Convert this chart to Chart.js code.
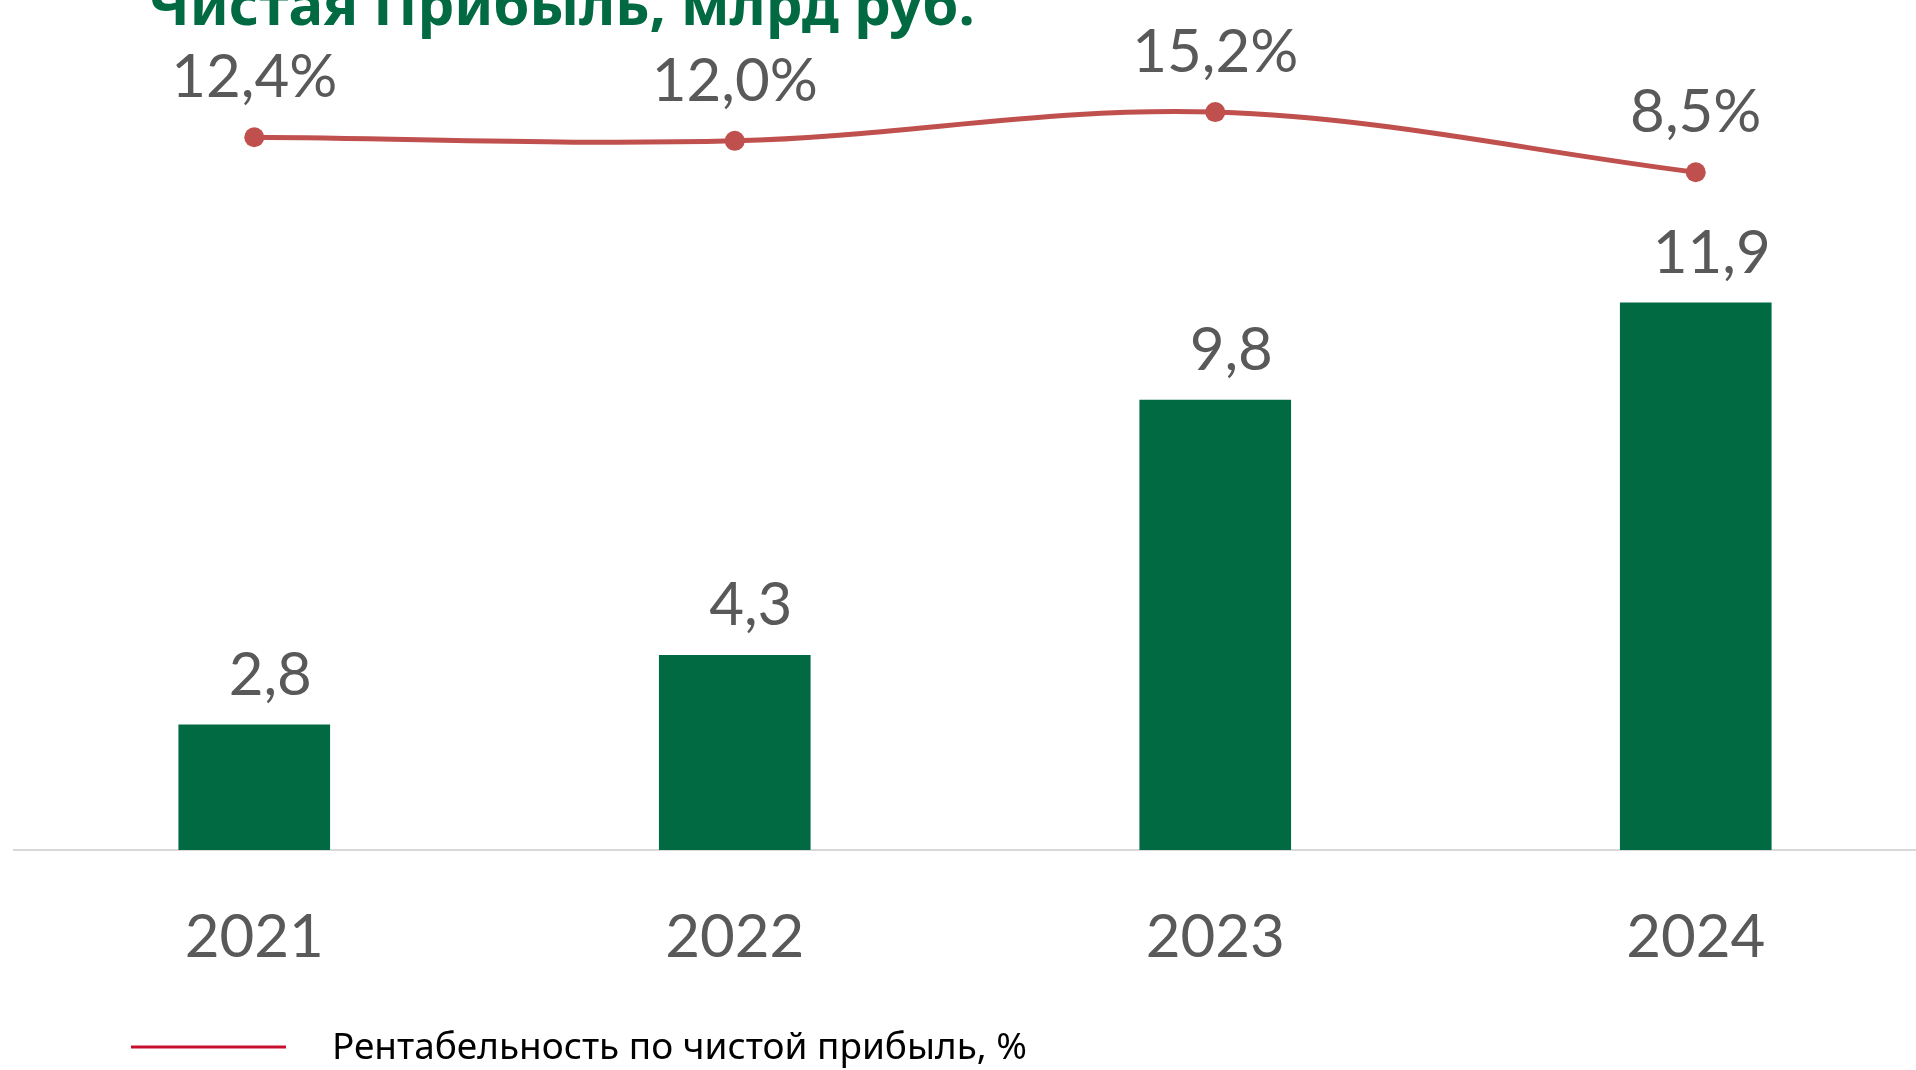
<!DOCTYPE html>
<html>
<head>
<meta charset="utf-8">
<script src="https://cdn.jsdelivr.net/npm/chart.js@4.4.1/dist/chart.umd.min.js"></script>
<style>
  html, body { margin: 0; padding: 0; background: #fff; overflow: hidden; }
  #wrap { position: absolute; left: 0; top: 0; width: 1946px; height: 1070px; }
</style>
</head>
<body>
<div id="wrap"><canvas id="profit-chart" width="1946" height="1070" style="width:1946px;height:1070px"></canvas></div>
<script>
// data
const years = ["2021", "2022", "2023", "2024"];
const netProfit = [2.8, 4.3, 9.8, 11.9];        // млрд руб.
const profitMargin = [12.4, 12.0, 15.2, 8.5];   // %
const chartTitle = "Чистая Прибыль, млрд руб.";
const legendLabel = "Рентабельность по чистой прибыль, %";

const GREEN = "#016A42";
const RED = "#C0504D";
const GREY_TEXT = "#595959";

const fmt = v => v.toFixed(1).replace(".", ",");

// labels above bars / points, title and the legend line at the bottom
const overlay = {
    id: "overlay",
    afterDatasetsDraw(chart) {
        const c = chart.ctx;
        c.save();
        c.fillStyle = GREY_TEXT;
        c.font = "60px Lato";
        c.textAlign = "center";
        c.textBaseline = "alphabetic";

        chart.getDatasetMeta(0).data.forEach((bar, i) => {
            c.fillText(fmt(netProfit[i]), bar.x + 16, bar.y - 30);
        });
        chart.getDatasetMeta(1).data.forEach((pt, i) => {
            c.fillText(fmt(profitMargin[i]) + "%", pt.x, pt.y - 40);
        });
        c.restore();
    },
    afterDraw(chart) {
        const c = chart.ctx;
        c.save();
        // title, cut off at the top like the source slide
        c.fillStyle = GREEN;
        c.font = "bold 58px 'Noto Sans'";
        c.textAlign = "left";
        c.textBaseline = "alphabetic";
        c.fillText(chartTitle, 148, 25, 829);

        // legend
        c.strokeStyle = "#C8102E";
        c.lineWidth = 3;
        c.beginPath();
        c.moveTo(131, 1047);
        c.lineTo(286, 1047);
        c.stroke();
        c.fillStyle = "#000";
        c.font = "37px 'Noto Sans'";
        c.fillText(legendLabel, 332, 1059, 695);
        c.restore();
    }
};

new Chart(document.getElementById("profit-chart"), {
    type: "bar",
    data: {
        labels: years,
        datasets: [
            {
                type: "bar",
                label: "Чистая прибыль, млрд руб.",
                data: netProfit,
                backgroundColor: GREEN,
                barThickness: 151,
                yAxisID: "y",
                order: 2
            },
            {
                type: "line",
                label: legendLabel,
                data: profitMargin,
                borderColor: RED,
                borderWidth: 5,
                tension: 0.35,
                pointRadius: 10,
                pointBackgroundColor: RED,
                pointBorderColor: RED,
                pointBorderWidth: 0,
                yAxisID: "y2",
                order: 1
            }
        ]
    },
    options: {
        responsive: false,
        animation: false,
        devicePixelRatio: 1,
        layout: {
            padding: { top: 43, left: 14, right: 5, bottom: 52 }
        },
        plugins: {
            legend: { display: false },
            title: { display: false },
            tooltip: { enabled: false }
        },
        scales: {
            x: {
                grid: { display: false },
                border: { display: true, color: "#D9D9D9", width: 2 },
                ticks: {
                    color: GREY_TEXT,
                    font: { family: "Lato", size: 60 },
                    padding: 44
                }
            },
            y: {
                display: false,
                min: 0.1,
                max: 17.5
            },
            y2: {
                display: false,
                position: "right",
                min: -67,
                max: 22.9
            }
        }
    },
    plugins: [overlay]
});
</script>
</body>
</html>
